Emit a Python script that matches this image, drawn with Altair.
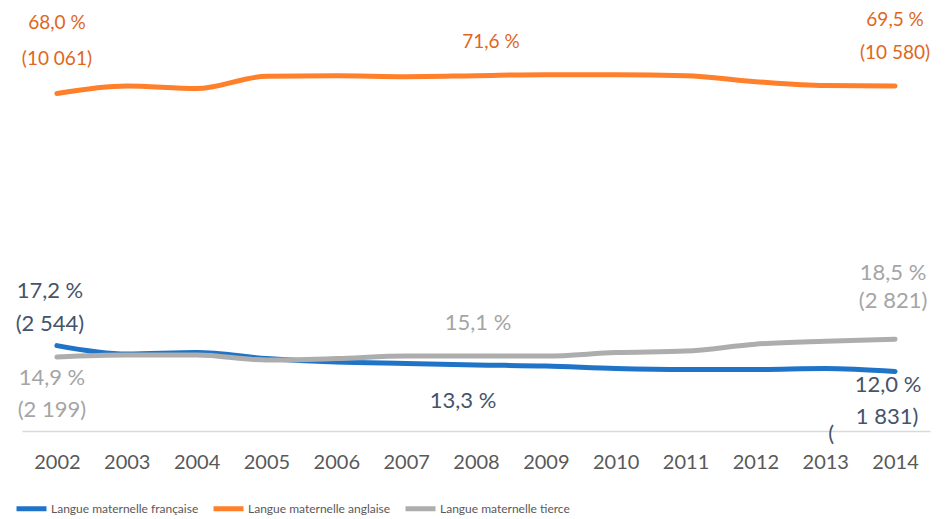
import altair as alt
import pandas as pd

years = list(range(2002, 2015))
series_names = ["Langue maternelle française", "Langue maternelle anglaise", "Langue maternelle tierce"]
francaise = [17.2, 15.5, 15.8, 14.6, 13.9, 13.6, 13.3, 13.1, 12.6, 12.4, 12.4, 12.6, 12.0]
anglaise = [68.0, 69.5, 69.0, 71.5, 71.6, 71.4, 71.6, 71.8, 71.8, 71.6, 70.4, 69.6, 69.5]
tierce = [14.9, 15.3, 15.3, 14.3, 14.6, 15.1, 15.1, 15.1, 15.8, 16.1, 17.5, 18.1, 18.5]
counts_francaise = {2002: "(2 544)", 2014: "1 831)"}
counts_anglaise = {2002: "(10 061)", 2014: "(10 580)"}
counts_tierce = {2002: "(2 199)", 2014: "(2 821)"}

colors = ["#1F74C8", "#FF7F2A", "#ADADAD"]
label_colors = ["#44546A", "#E0661C", "#A5A5A5"]

rows = []
for name, vals in zip(series_names, [francaise, anglaise, tierce]):
    for y, v in zip(years, vals):
        rows.append({"year": y, "value": v, "series": name})
df = pd.DataFrame(rows)

def pct(v):
    return f"{v:.1f} %".replace(".", ",")

FONT = "Lato"

x_scale = alt.Scale(domain=[2001.5, 2014.5], nice=False, zero=False)
x_enc = alt.X("year:Q", scale=x_scale,
              axis=alt.Axis(values=years, format="d", title=None, ticks=False, grid=False,
                            domainColor="#D9D9D9", domainWidth=1.5, labelColor="#595959",
                            labelFontSize=20, labelFont=FONT, labelPadding=21))
y_scale = alt.Scale(domain=[0, 80], nice=False)
y_enc = alt.Y("value:Q", scale=y_scale, axis=None)

lines = alt.Chart(df).mark_line(strokeWidth=5, strokeCap="round", interpolate="monotone").encode(
    x=x_enc, y=y_enc,
    color=alt.Color("series:N", scale=alt.Scale(domain=series_names, range=colors),
                    legend=alt.Legend(title=None, orient="none", legendX=-8, legendY=457,
                                      direction="horizontal", symbolType="stroke",
                                      symbolStrokeWidth=5, symbolSize=900,
                                      labelFont=FONT, labelFontSize=12, labelColor="#595959",
                                      columnPadding=4, labelOffset=2, symbolOffset=0)),
    detail="series:N",
)

def label(year, value, text, color, dx, dy, size=22):
    d = pd.DataFrame({"year": [year], "value": [value], "t": [text]})
    return alt.Chart(d).mark_text(color=color, dx=dx, dy=dy, font=FONT, fontSize=size,
                                  align="center", baseline="middle").encode(
        x=alt.X("year:Q", scale=x_scale),
        y=alt.Y("value:Q", scale=y_scale),
        text="t:N")

i08 = years.index(2008)
labels = [
    # anglaise
    label(2002, anglaise[0], pct(anglaise[0]), label_colors[1], 0, -71, 19),
    label(2002, anglaise[0], counts_anglaise[2002], label_colors[1], 0, -35, 19),
    label(2014, anglaise[-1], pct(anglaise[-1]), label_colors[1], 0, -66, 19),
    label(2014, anglaise[-1], counts_anglaise[2014], label_colors[1], 0, -33, 19),
    label(2008, anglaise[i08], pct(anglaise[i08]), label_colors[1], 15, -34, 19),
    # francaise
    label(2002, francaise[0], pct(francaise[0]), label_colors[0], -7, -55),
    label(2002, francaise[0], counts_francaise[2002], label_colors[0], -7, -22),
    label(2008, francaise[i08], pct(francaise[i08]), label_colors[0], -13, 36),
    label(2014, francaise[-1], pct(francaise[-1]), label_colors[0], -7, 14),
    label(2014, francaise[-1], counts_francaise[2014], label_colors[0], -8, 46),
    label(2014, francaise[-1], "(", label_colors[0], -64, 63),
    # tierce
    label(2002, tierce[0], pct(tierce[0]), label_colors[2], -5, 21),
    label(2002, tierce[0], counts_tierce[2002], label_colors[2], -5, 53),
    label(2008, tierce[i08], pct(tierce[i08]), label_colors[2], 2, -33),
    label(2014, tierce[-1], pct(tierce[-1]), label_colors[2], -2, -66),
    label(2014, tierce[-1], counts_tierce[2014], label_colors[2], -2, -38),
]

chart = alt.layer(lines, *labels).properties(
    width=908, height=397,
    autosize=alt.AutoSizeParams(type="none"),
    padding={"left": 14, "top": 26, "right": 9, "bottom": 88},
    background="white",
).configure_view(strokeWidth=0)

chart.save("out.html", embed_options={"renderer": "svg", "actions": False})
